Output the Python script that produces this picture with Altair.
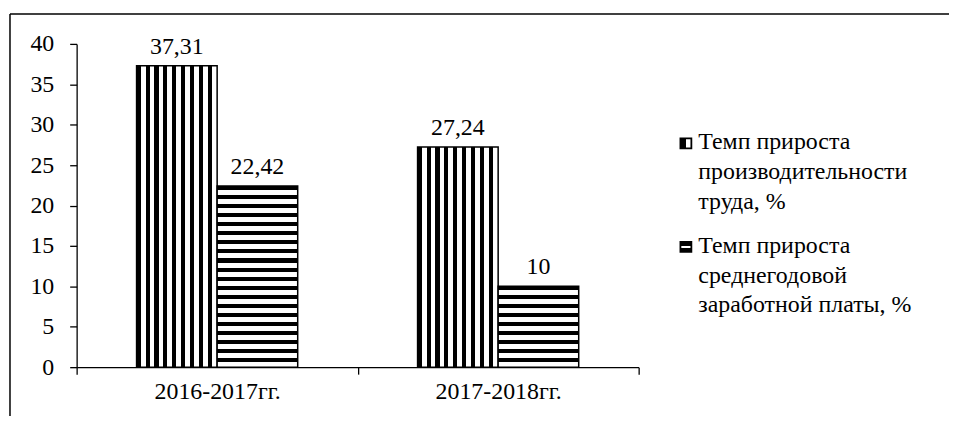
import altair as alt
import pandas as pd

categories = ["2016-2017гг.", "2017-2018гг."]
series = [
    "Темп прироста производительности труда, %",
    "Темп прироста среднегодовой заработной платы, %",
]
productivity = [37.31, 27.24]
wages = [22.42, 10]
legend_lines = [
    ["Темп прироста", "производительности", "труда, %"],
    ["Темп прироста", "среднегодовой", "заработной платы, %"],
]
y_ticks = [0, 5, 10, 15, 20, 25, 30, 35, 40]

FONT = "Liberation Serif"
W, H = 565, 325
YMAX = 40
PERIOD = 9.0
BAR_W = 81.0

rows = []
for i, c in enumerate(categories):
    rows.append({"cat": c, "series": series[0], "value": productivity[i], "vert": True})
    rows.append({"cat": c, "series": series[1], "value": wages[i], "vert": False})
df = pd.DataFrame(rows)
df["label"] = df["value"].map(lambda v: (f"{v:g}").replace(".", ","))


def stripes(n, horizontal, black=0.45):
    stops = []
    for i in range(n):
        a, b, c = i / n, (i + black) / n, (i + 1) / n
        stops += [
            {"offset": a, "color": "black"},
            {"offset": b, "color": "black"},
            {"offset": b, "color": "white"},
            {"offset": c, "color": "white"},
        ]
    return {
        "gradient": "linear",
        "x1": 0, "y1": 0,
        "x2": 0 if horizontal else 1,
        "y2": 1 if horizontal else 0,
        "stops": stops,
    }


def legend_icon(horizontal):
    if horizontal:
        stops = [
            {"offset": 0, "color": "black"}, {"offset": 0.38, "color": "black"},
            {"offset": 0.38, "color": "white"}, {"offset": 0.62, "color": "white"},
            {"offset": 0.62, "color": "black"}, {"offset": 1, "color": "black"},
        ]
        return {"gradient": "linear", "x1": 0, "y1": 0, "x2": 0, "y2": 1, "stops": stops}
    stops = [
        {"offset": 0, "color": "black"}, {"offset": 0.5, "color": "black"},
        {"offset": 0.5, "color": "white"}, {"offset": 1, "color": "white"},
    ]
    return {"gradient": "linear", "x1": 0, "y1": 0, "x2": 1, "y2": 0, "stops": stops}


enc = dict(
    x=alt.X(
        "cat:N",
        sort=categories,
        scale=alt.Scale(domain=categories, paddingInner=0, paddingOuter=0),
        axis=alt.Axis(
            title=None, labelAngle=0, tickBand="extent", tickSize=7,
            labelPadding=5, labelFontSize=24,
        ),
    ),
    xOffset=alt.XOffset(
        "series:N",
        sort=series,
        scale=alt.Scale(domain=series, paddingInner=0, paddingOuter=0.744),
    ),
    y=alt.Y(
        "value:Q",
        scale=alt.Scale(domain=[0, YMAX], nice=False, zero=True),
        axis=alt.Axis(
            title=None, values=y_ticks, tickSize=7, labelPadding=16,
            labelFontSize=24, grid=False,
        ),
    ),
)

layers = []

one = pd.DataFrame({"a": [0]})
frame_top = alt.Chart(one).mark_rule(color="black", strokeWidth=1.5).encode(
    x=alt.value(-67), x2=alt.value(1000), y=alt.value(-30)
)
frame_left = alt.Chart(one).mark_rule(color="black", strokeWidth=1.5).encode(
    x=alt.value(-67), y=alt.value(-30), y2=alt.value(600)
)
layers += [frame_top, frame_left]

for _, r in df.iterrows():
    if r["vert"]:
        n = int(round(BAR_W / PERIOD))
        grad = stripes(n, horizontal=False)
    else:
        h = r["value"] * H / YMAX
        n = max(1, int(round(h / PERIOD)))
        grad = stripes(n, horizontal=True)
    layer = (
        alt.Chart(df)
        .transform_filter((alt.datum.cat == r["cat"]) & (alt.datum.series == r["series"]))
        .mark_bar(fill=grad, stroke="black", strokeWidth=1.5)
        .encode(**enc)
    )
    layers.append(layer)

labels = alt.Chart(df).mark_text(
    baseline="alphabetic", dy=-12, fontSize=24, font=FONT, color="black"
).encode(text="label:N", **enc)
layers.append(labels)

legend_df = pd.DataFrame(
    {"series": series, "text": ["\n".join(l) for l in legend_lines]}
)
legend_y = [92, 196]
for i, s in enumerate(series):
    icon = (
        alt.Chart(legend_df)
        .transform_filter(alt.datum.series == s)
        .mark_rect(fill=legend_icon(i == 1), stroke="black", strokeWidth=1.8)
        .encode(
            x=alt.value(607), x2=alt.value(618),
            y=alt.value(legend_y[i] + 3), y2=alt.value(legend_y[i] + 13),
        )
    )
    txt = (
        alt.Chart(legend_df)
        .transform_filter(alt.datum.series == s)
        .mark_text(
            align="left", baseline="top", lineBreak="\n", lineHeight=30,
            fontSize=24, font=FONT, color="black",
        )
        .encode(x=alt.value(625), y=alt.value(legend_y[i] - 5), text="text:N")
    )
    layers += [icon, txt]

chart = (
    alt.layer(*layers)
    .properties(
        width=W,
        height=H,
        padding={"left": 69, "top": 35, "right": 312, "bottom": 48},
        autosize=alt.AutoSizeParams(type="none"),
        background="white",
    )
    .configure_view(strokeWidth=0)
    .configure_axis(
        labelFont=FONT, labelColor="black", domainColor="black", tickColor="black",
        domainWidth=1.3, tickWidth=1.3,
    )
)

chart.save("out.html", embed_options={"renderer": "svg", "actions": False})
